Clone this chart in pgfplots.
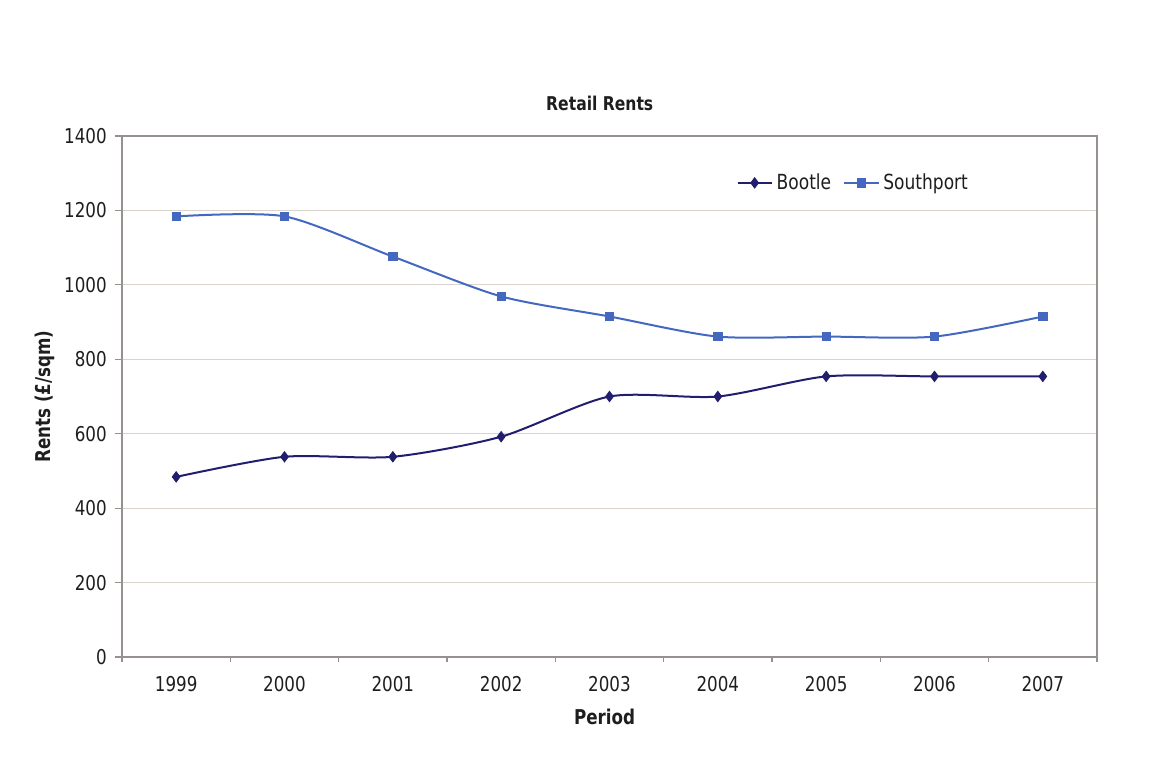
\documentclass[border=0pt]{standalone}
\usepackage{fontspec}
\setmainfont{DejaVu Sans}[FakeStretch=0.82]
\usepackage{pgfplots}
\pgfplotsset{compat=1.18}
\definecolor{bootle}{RGB}{33,30,110}
\definecolor{south}{RGB}{68,104,192}
\definecolor{gridc}{RGB}{218,212,206}
\definecolor{axc}{RGB}{150,144,142}
\definecolor{txt}{RGB}{30,30,30}
\begin{document}
\begin{tikzpicture}
\path[use as bounding box] (0,0) rectangle (583.5pt,386.5pt);
\begin{axis}[
  at={(61pt,58pt)}, anchor=south west,
  scale only axis, width=487.5pt, height=260.5pt,
  xmin=-0.5, xmax=8.5, ymin=0, ymax=1400,
  xtick={0,...,8},
  xticklabels={1999,2000,2001,2002,2003,2004,2005,2006,2007},
  extra x ticks={-0.5,0.5,...,8.5},
  extra x tick labels={},
  extra x tick style={xtick style={draw=axc, line width=0.6pt}, major tick length=2.6pt},
  ytick={0,200,...,1400},
  major tick length=3.5pt,
  tick align=outside,
  xtick pos=bottom, ytick pos=left,
  xtick style={draw=none},
  ytick style={axc, line width=0.6pt},
  axis line style={axc, line width=0.9pt},
  ymajorgrids, grid style={gridc, line width=0.6pt},
  /pgf/number format/assume math mode=true,
  /pgf/number format/1000 sep={},
  tick label style={font=\fontsize{10.2}{12}\selectfont, text=txt},
  xticklabel style={yshift=-2.8pt},
  yticklabel style={xshift=-0.6pt},
  title={\textbf{Retail Rents}},
  title style={at={(axis description cs:0.490,1)}, anchor=center, yshift=10.5pt, font=\fontsize{9.5}{11}\selectfont, text=txt},
  xlabel={\textbf{Period}},
  xlabel style={at={(axis description cs:0.495,0)}, anchor=center, yshift=-30pt, font=\fontsize{10.2}{12}\selectfont, text=txt},
  ylabel={\textbf{Rents (£/sqm)}},
  ylabel style={at={(axis description cs:-0.079,0.5)}, anchor=center, font=\fontsize{10.2}{12}\selectfont, text=txt},
  legend style={at={(axis description cs:0.751,0.91)}, anchor=center, draw=none, fill=none,
    font=\fontsize{10.4}{12}\selectfont, text=txt, legend columns=2,
    /tikz/every even column/.append style={column sep=4pt}},
  legend image code/.code={\draw[#1, mark repeat=2, mark phase=2] plot coordinates {(0cm,0cm) (0.3cm,0cm) (0.6cm,0cm)};},
]
\addplot[bootle, line width=1pt, smooth, tension=0.45, mark=diamond*, mark size=2.6pt, mark options={fill=bootle, draw=bootle, line width=0.4pt}]
  coordinates {(0,484) (1,538) (2,538) (3,592) (4,700) (5,700) (6,754) (7,754) (8,754)};
\addlegendentry{Bootle}
\addplot[south, line width=1pt, smooth, tension=0.45, mark=square*, mark size=2.1pt, mark options={fill=south, draw=south, line width=0.4pt}]
  coordinates {(0,1184) (1,1184) (2,1076) (3,969) (4,915) (5,861) (6,861) (7,861) (8,915)};
\addlegendentry{Southport}
\end{axis}
\end{tikzpicture}
\end{document}
